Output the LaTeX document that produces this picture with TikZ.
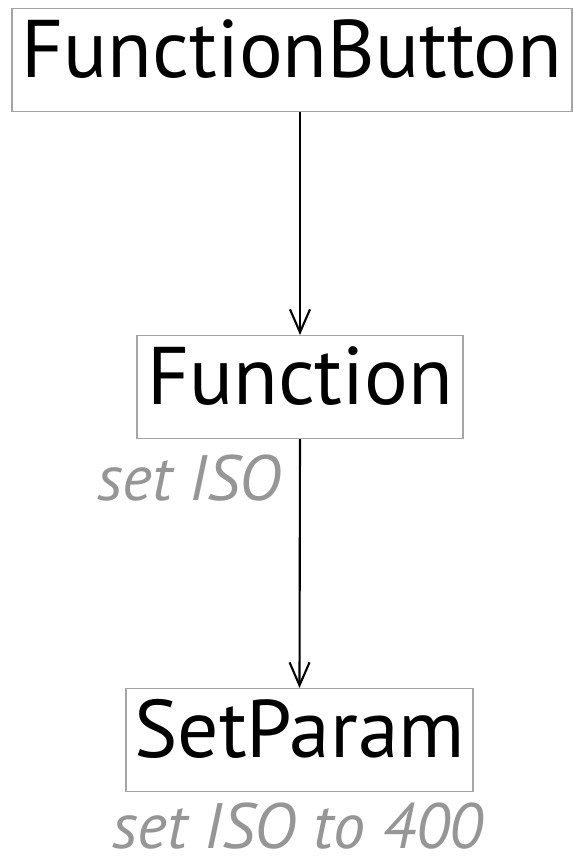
\documentclass[tikz,border=0pt]{standalone}
\usepackage{fontspec}
\setmainfont{PT Sans}
\usetikzlibrary{positioning}
\usetikzlibrary{calc}
\usetikzlibrary{arrows.meta}
\definecolor{boxgray}{RGB}{165,165,165}
\definecolor{notegray}{RGB}{150,150,150}

\begin{document}
\begin{tikzpicture}[
    block/.style={draw=boxgray, line width=0.6pt, inner sep=0pt, anchor=north,
        text height=1.37cm, text depth=0.69cm, font=\fontsize{46.5}{54}\selectfont},
    call/.style={-{Straight Barb[length=0.46cm, width=0.4cm]}, line width=1.2pt},
    note/.style={text=notegray, inner sep=0pt, font=\fontsize{36.5}{44}\selectfont\itshape}
]
\useasboundingbox (0,0) rectangle (11.48,-17.16);

% Boxes, top to bottom
\node[block, minimum width=11.2cm] (button) at (5.84,-0.16) {FunctionButton};
\node[block, minimum width=6.52cm] (function) at (6.00,-6.70) {Function};
\node[block, minimum width=6.94cm] (setparam) at (5.99,-13.76) {SetParam};

% Calls
\draw[call] (function.north |- button.south) -- (function.north);
\draw[call] (function.south) -- (setparam.north);

% Labels
\node[note, anchor=base east] (isonote) at ($(function.south)+(-0.36,-1.22)$) {set ISO};
\node[note, anchor=base] (paramnote) at ($(setparam.south)+(-0.04,-1.12)$) {set ISO to 400};
\end{tikzpicture}
\end{document}
